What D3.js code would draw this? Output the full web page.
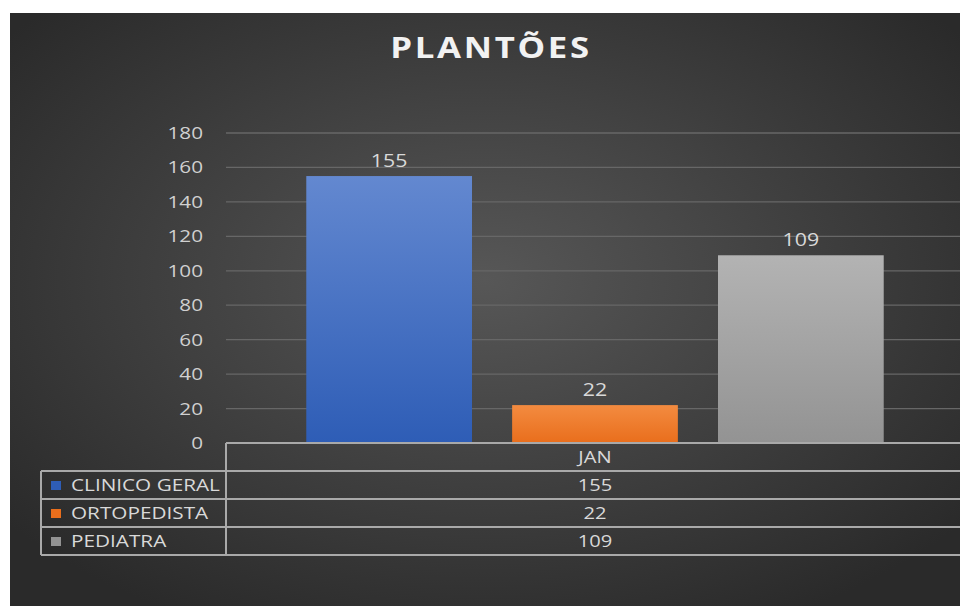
<!DOCTYPE html>
<html><head><meta charset="utf-8">
<script src="https://cdn.jsdelivr.net/npm/d3@7/dist/d3.min.js"></script>
<style>html,body{margin:0;padding:0;background:#fff;overflow:hidden}</style>
</head><body>
<svg id="c" width="960" height="606"></svg>
<script>
const title = "PLANTÕES";
const categories = ["JAN"];
const seriesNames = ["CLINICO GERAL", "ORTOPEDISTA", "PEDIATRA"];
const seriesValues = [155, 22, 109];
const yTicks = [0, 20, 40, 60, 80, 100, 120, 140, 160, 180];
const seriesColors = [["#6388d0", "#2e5db6"], ["#f38b40", "#e96e1c"], ["#b3b3b3", "#939393"]];

const svg = d3.select("#c");
const defs = svg.append("defs");
const bg = defs.append("radialGradient").attr("id", "bg").attr("cx", "50%").attr("cy", "45%").attr("r", "65%");
bg.append("stop").attr("offset", "0%").attr("stop-color", "#575757");
bg.append("stop").attr("offset", "100%").attr("stop-color", "#2a2a2a");
seriesColors.forEach((c, i) => {
  const g = defs.append("linearGradient").attr("id", "g" + i).attr("x1", 0).attr("y1", 0).attr("x2", 0).attr("y2", 1);
  g.append("stop").attr("offset", "0%").attr("stop-color", c[0]);
  g.append("stop").attr("offset", "100%").attr("stop-color", c[1]);
});

svg.append("rect").attr("x", 10).attr("y", 13).attr("width", 950).attr("height", 593).attr("fill", "url(#bg)");

const font = "'Open Sans', sans-serif";
const SX = 1.22;
function stext(g, x, y, txt, anchor, size, fill, sx) {
  return g.append("text").attr("transform", `translate(${x},${y}) scale(${sx || SX},1)`)
    .attr("text-anchor", anchor).attr("font-family", font).attr("font-size", size)
    .attr("fill", fill || "#d9d9d9").text(txt);
}

stext(svg, 491, 58, title, "middle", 28.5, "#f2f2f2", 1.22).attr("font-weight", 700).attr("letter-spacing", 2.2);

const left = 226, right = 964, y0 = 443;
const y = d3.scaleLinear().domain([0, 180]).range([y0, 133]);
const x0 = d3.scaleBand().domain(categories).range([left, right]);
const x1 = d3.scaleBand().domain(seriesNames).range([0, x0.bandwidth()]).paddingInner(0.195).paddingOuter(0.39);

svg.append("g").selectAll("line").data(yTicks.filter(d => d > 0)).join("line")
  .attr("x1", left).attr("x2", 960).attr("y1", d => y(d)).attr("y2", d => y(d))
  .attr("stroke", "#676767").attr("stroke-width", 1.3);

const yAxis = d3.axisLeft(y).tickValues(yTicks).tickSize(0).tickPadding(0);
const ga = svg.append("g").attr("transform", `translate(203,0)`).call(yAxis);
ga.select(".domain").remove();
ga.selectAll("text").attr("font-family", font).attr("font-size", 17).attr("fill", "#d0d0d0")
  .attr("transform", `scale(${SX},1)`);

const gb = svg.append("g").attr("transform", `translate(${x0("JAN")},0)`);
gb.selectAll("rect").data(seriesValues).join("rect")
  .attr("x", (d, i) => x1(seriesNames[i])).attr("width", x1.bandwidth())
  .attr("y", d => y(d)).attr("height", d => y0 - y(d))
  .attr("fill", (d, i) => `url(#g${i})`);
seriesValues.forEach((d, i) => {
  stext(gb, x1(seriesNames[i]) + x1.bandwidth() / 2, y(d) - 9, d, "middle", 17.5);
});

const rowH = 28, legL = 41;
const tl = svg.append("g").attr("stroke", "#a9a9a9").attr("stroke-width", 2);
tl.append("line").attr("x1", left).attr("x2", 960).attr("y1", y0).attr("y2", y0);
for (let r = 1; r <= seriesNames.length + 1; r++) {
  tl.append("line").attr("x1", legL).attr("x2", 960).attr("y1", y0 + r * rowH).attr("y2", y0 + r * rowH);
}
tl.append("line").attr("x1", left).attr("x2", left).attr("y1", y0).attr("y2", y0 + (seriesNames.length + 1) * rowH);
tl.append("line").attr("x1", legL).attr("x2", legL).attr("y1", y0 + rowH).attr("y2", y0 + (seriesNames.length + 1) * rowH);

const cx = x0("JAN") + x0.bandwidth() / 2;
stext(svg, cx, y0 + rowH / 2 + 6, categories[0], "middle", 16.5);
seriesNames.forEach((n, i) => {
  const yy = y0 + (i + 1) * rowH;
  svg.append("rect").attr("x", 51).attr("y", yy + rowH / 2 - 4).attr("width", 10).attr("height", 9)
    .attr("fill", seriesColors[i][1]);
  stext(svg, 71, yy + rowH / 2 + 6, n, "start", 17, "#d9d9d9", 1.22);
  stext(svg, cx, yy + rowH / 2 + 6, seriesValues[i], "middle", 16.5);
});
</script>
</body></html>
